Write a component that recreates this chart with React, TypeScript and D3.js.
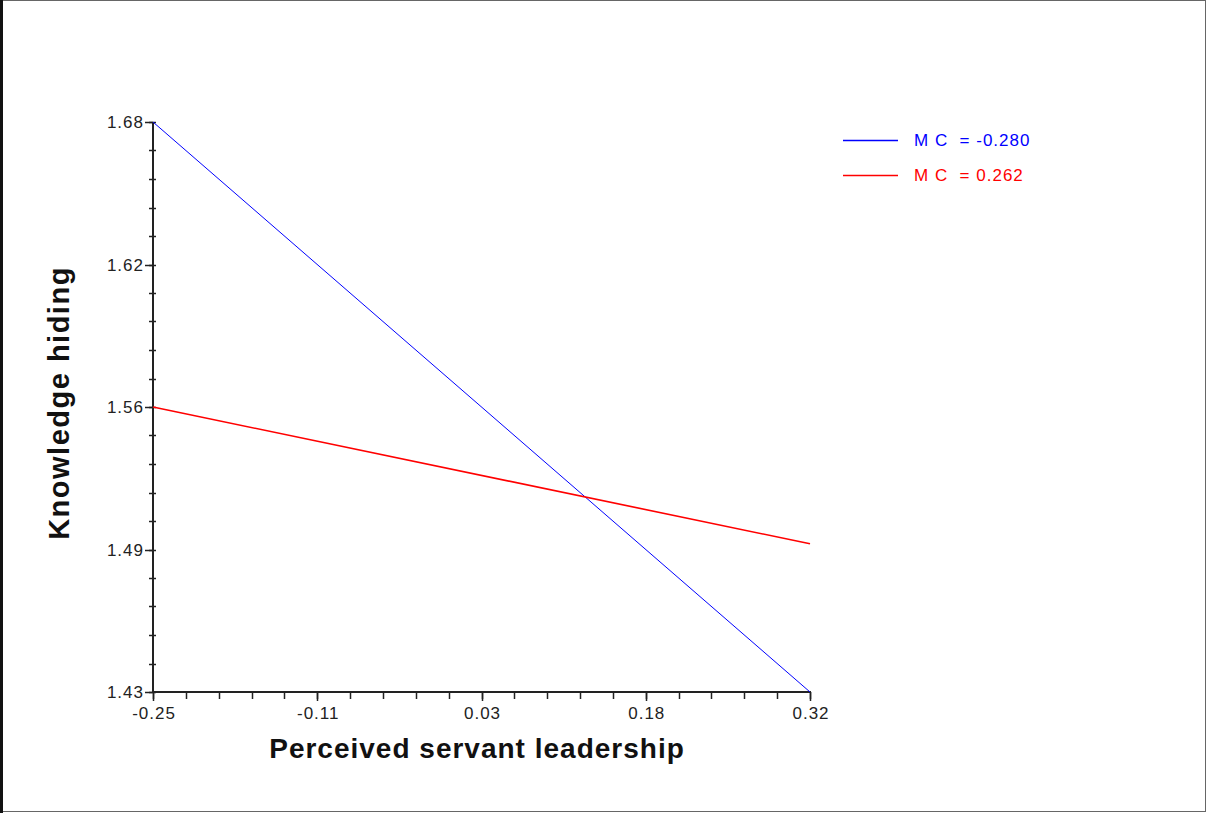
import { useEffect, useRef } from 'react'
import * as d3 from 'd3'

// axis extents and the labels printed at the 4 equal divisions
const xDomain = [-0.25, 0.32]
const yDomain = [1.43, 1.68]
const xTickLabels = ['-0.25', '-0.11', '0.03', '0.18', '0.32']
const yTickLabels = ['1.43', '1.49', '1.56', '1.62', '1.68']

// simple slopes: value at low / high end of the x range
const seriesNames = ['M C  = -0.280', 'M C  = 0.262']
const seriesColors = ['#0000ff', '#ff0000']
const seriesWidths = [1, 1.6]
const lowValues = [1.68, 1.555]
const highValues = [1.43, 1.495]

const W = 1207
const H = 813

export default function App() {
  const ref = useRef<SVGSVGElement>(null)

  useEffect(() => {
    document.body.style.margin = '0'
    const svg = d3.select(ref.current)
    svg.selectAll('*').remove()

    const x = d3.scaleLinear().domain(xDomain).range([153, 810])
    const y = d3.scaleLinear().domain(yDomain).range([692, 122])
    const font = 'Arial, "Liberation Sans", sans-serif'

    svg.append('rect').attr('width', W).attr('height', H).attr('fill', '#fff')
    // frame
    svg
      .append('rect')
      .attr('x', 0.5)
      .attr('y', 0.5)
      .attr('width', W - 2)
      .attr('height', H - 2)
      .attr('fill', 'none')
      .attr('stroke', '#666')
    svg.append('line').attr('x1', 1.5).attr('x2', 1.5).attr('y1', 0).attr('y2', H).attr('stroke', '#111').attr('stroke-width', 3)

    const g = svg.append('g')
    const axisColor = '#222'

    // y ticks (4 majors, 5 subdivisions each)
    const yMajor = d3.range(5).map((i) => yDomain[0] + (i * (yDomain[1] - yDomain[0])) / 4)
    const yMinor = d3.range(21).map((i) => yDomain[0] + (i * (yDomain[1] - yDomain[0])) / 20)
    g.selectAll('.ymin')
      .data(yMinor)
      .join('line')
      .attr('x1', 149)
      .attr('x2', 156)
      .attr('y1', (d) => Math.round(y(d)) + 0.5)
      .attr('y2', (d) => Math.round(y(d)) + 0.5)
      .attr('stroke', axisColor)
      .attr('stroke-width', 1.5)
    g.selectAll('.ymaj')
      .data(yMajor)
      .join('line')
      .attr('x1', 145)
      .attr('x2', 153)
      .attr('y1', (d) => Math.round(y(d)) + 0.5)
      .attr('y2', (d) => Math.round(y(d)) + 0.5)
      .attr('stroke', axisColor)
      .attr('stroke-width', 1.5)
    g.selectAll('.ylab')
      .data(yMajor)
      .join('text')
      .attr('x', 144)
      .attr('y', (d) => y(d) + 6)
      .attr('text-anchor', 'end')
      .attr('font-family', font)
      .attr('font-size', 17)
      .attr('letter-spacing', 1)
      .attr('fill', '#222')
      .text((d, i) => yTickLabels[i])

    // x ticks
    const xMajor = d3.range(5).map((i) => xDomain[0] + (i * (xDomain[1] - xDomain[0])) / 4)
    const xMinor = d3.range(21).map((i) => xDomain[0] + (i * (xDomain[1] - xDomain[0])) / 20)
    g.selectAll('.xmin')
      .data(xMinor)
      .join('line')
      .attr('x1', (d) => Math.round(x(d)) + 0.5)
      .attr('x2', (d) => Math.round(x(d)) + 0.5)
      .attr('y1', 692)
      .attr('y2', 699)
      .attr('stroke', axisColor)
      .attr('stroke-width', 1.5)
    g.selectAll('.xmaj')
      .data(xMajor)
      .join('line')
      .attr('x1', (d) => Math.round(x(d)) + 0.5)
      .attr('x2', (d) => Math.round(x(d)) + 0.5)
      .attr('y1', 692)
      .attr('y2', 701)
      .attr('stroke', axisColor)
      .attr('stroke-width', 1.5)
    g.selectAll('.xlab')
      .data(xMajor)
      .join('text')
      .attr('x', (d) => x(d) + 1)
      .attr('y', 719)
      .attr('text-anchor', 'middle')
      .attr('font-family', font)
      .attr('font-size', 17)
      .attr('letter-spacing', 1)
      .attr('fill', '#222')
      .text((d, i) => xTickLabels[i])

    // axis lines
    g.append('line').attr('x1', 153).attr('x2', 153).attr('y1', y(yDomain[1])).attr('y2', y(yDomain[0]) + 1).attr('stroke', axisColor).attr('stroke-width', 2)
    g.append('line').attr('x1', 152).attr('x2', x(xDomain[1]) + 1).attr('y1', 692).attr('y2', 692).attr('stroke', axisColor).attr('stroke-width', 2)

    // slope lines
    const line = d3
      .line<[number, number]>()
      .x((d) => x(d[0]))
      .y((d) => y(d[1]))
    seriesNames.forEach((name, i) => {
      g.append('path')
        .attr('d', line([
          [xDomain[0], lowValues[i]],
          [xDomain[1], highValues[i]],
        ]))
        .attr('fill', 'none')
        .attr('stroke', seriesColors[i])
        .attr('stroke-width', seriesWidths[i])
    })

    // legend
    const leg = svg.append('g').attr('transform', 'translate(843,140)')
    seriesNames.forEach((name, i) => {
      const row = leg.append('g').attr('transform', `translate(0,${i * 35})`)
      row.append('line').attr('x1', 0).attr('x2', 55).attr('y1', 0.5).attr('y2', 0.5).attr('stroke', seriesColors[i]).attr('stroke-width', 1.3)
      row.append('text')
        .attr('x', 71)
        .attr('y', 6)
        .attr('font-family', font)
        .attr('font-size', 17)
        .attr('letter-spacing', 1)
        .attr('fill', seriesColors[i])
        .style('white-space', 'pre')
        .text(name)
    })

    // axis titles
    svg.append('text')
      .attr('x', 477)
      .attr('y', 758)
      .attr('text-anchor', 'middle')
      .attr('font-family', font)
      .attr('font-weight', 'bold')
      .attr('font-size', 28)
      .attr('letter-spacing', 1)
      .attr('fill', '#111')
      .text('Perceived servant leadership')
    svg.append('text')
      .attr('transform', 'translate(69,403) rotate(-90)')
      .attr('text-anchor', 'middle')
      .attr('font-family', font)
      .attr('font-weight', 'bold')
      .attr('font-size', 29)
      .attr('letter-spacing', 1.5)
      .attr('fill', '#111')
      .text('Knowledge hiding')
  }, [])

  return <svg ref={ref} width={W} height={H} style={{ display: 'block' }} />
}
